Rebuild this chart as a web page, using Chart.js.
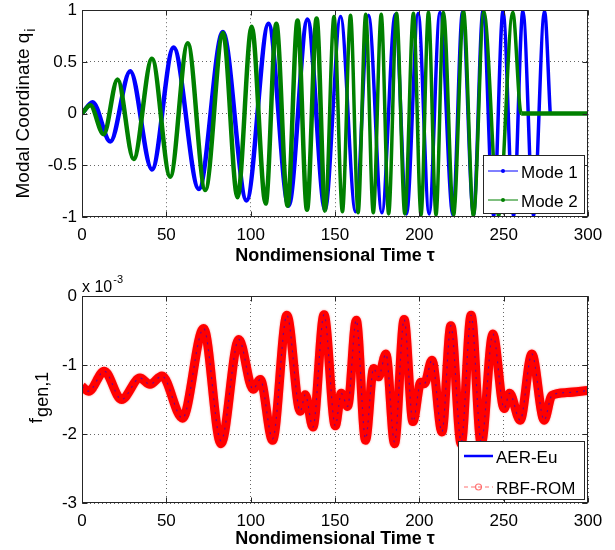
<!DOCTYPE html>
<html>
<head>
<meta charset="utf-8">
<script src="https://cdn.jsdelivr.net/npm/chart.js@4/dist/chart.umd.min.js"></script>
<style>
html,body{margin:0;padding:0;background:#fff;width:615px;height:550px;overflow:hidden;position:relative}
canvas{position:absolute;left:0}
#c1{top:-5px}
#c2{top:270px}
</style>
</head>
<body>
<canvas id="c1" width="615" height="275"></canvas>
<canvas id="c2" width="615" height="280"></canvas>
<script>
// ---------- data ----------
const xTickValues = [0, 50, 100, 150, 200, 250, 300];
const qTickValues = [-1, -0.5, 0, 0.5, 1];
const fTickValues = [-3, -2, -1, 0];
const fScaleBase = 'x 10';
const fScaleExp = '-3';
const xTitle = 'Nondimensional Time τ';

// Mode 1 (extrema of the modal coordinate)
const mode1Tau = [0, 6.3, 16.8, 28.6, 41.5, 54.3, 69.3, 83.5, 97.6, 110.6, 122.5, 133.7, 144.2, 153.3, 162.2, 169.9, 177.8, 185.7, 192.4, 199.3, 205.8, 212.2, 219.9, 225.6, 232.1, 237.7, 244, 249.6, 255.8, 261.4, 267.7, 274.2, 277.6];
const mode1Q   = [0, 0.11, -0.27, 0.41, -0.54, 0.64, -0.73, 0.79, -0.84, 0.87, -0.89, 0.91, -0.93, 0.94, -0.95, 0.95, -0.96, 0.96, -0.97, 0.97, -0.97, 0.98, -0.98, 0.98, -0.98, 0.99, -0.99, 0.99, -0.99, 0.99, -0.99, 0.99, 0.0];

// Mode 2
const mode2Tau = [0, 4.9, 12.8, 21.1, 30.6, 41.5, 52.3, 62.7, 73.1, 83.6, 92.2, 100.6, 108.9, 115.2, 121.9, 127.8, 133.4, 139.1, 144.2, 149.4, 154.4, 159.2, 163.7, 168.2, 172.7, 177.4, 181.8, 186.5, 191.4, 196.5, 201, 205.4, 209.9, 214.3, 220.3, 226.2, 232.1, 238.2, 247, 255.4, 260.4, 300];
const mode2Q   = [0, 0.08, -0.20, 0.33, -0.44, 0.53, -0.61, 0.68, -0.74, 0.78, -0.81, 0.84, -0.87, 0.87, -0.89, 0.90, -0.93, 0.92, -0.94, 0.94, -0.95, 0.95, -0.96, 0.96, -0.96, 0.96, -0.97, 0.97, -0.97, 0.97, -0.98, 0.98, -0.98, 0.98, -0.98, 0.99, -0.99, 0.99, -0.99, 0.98, 0, 0];

// generalized force (units of 1e-3)
const fgenTau = [0, 3.9, 13.2, 23.4, 34.4, 40.3, 47.4, 59.6, 72.1, 82.4, 93, 101.4, 105.7, 113, 121.5, 129.4, 132.4, 136.9, 143.5, 150.2, 153.7, 157.5, 162.6, 168.1, 172.9, 175.8, 180.2, 185.3, 191, 196.2, 200.9, 203, 207.5, 213.4, 218.7, 224.8, 230.7, 236.7, 243.6, 250.3, 253.5, 259.8, 266.7, 274, 278.6, 287.5, 300];
const aerEuF  = [-1.31, -1.38, -1.09, -1.50, -1.19, -1.28, -1.16, -1.77, -0.47, -2.10, -0.63, -1.35, -1.21, -2.07, -0.28, -1.67, -1.43, -1.90, -0.27, -1.88, -1.41, -1.60, -0.35, -2.07, -1.05, -1.17, -0.84, -2.12, -0.34, -1.82, -1.25, -1.27, -0.93, -1.97, -0.43, -2.12, -0.28, -2.12, -0.55, -1.63, -1.41, -1.80, -0.84, -1.80, -1.44, -1.40, -1.37];
const rbfRomF = [-1.31, -1.38, -1.09, -1.50, -1.19, -1.28, -1.16, -1.77, -0.47, -2.14, -0.63, -1.35, -1.21, -2.09, -0.28, -1.67, -1.43, -1.90, -0.27, -1.88, -1.41, -1.60, -0.35, -2.09, -1.05, -1.17, -0.84, -2.14, -0.34, -1.82, -1.25, -1.27, -0.93, -1.97, -0.43, -2.14, -0.28, -2.14, -0.55, -1.63, -1.41, -1.80, -0.84, -1.80, -1.44, -1.40, -1.37];

// ---------- helpers ----------
const FONT = '"Liberation Sans", Arial, Helvetica, sans-serif';
const pts = (xs, ys) => xs.map((x, i) => ({x: x, y: ys[i]}));
// later, faster oscillations look a little thinner in the reference
const fastSeg = {
  borderWidth: c => (c.p0.parsed.x >= 140 && c.p0.parsed.y !== c.p1.parsed.y ? 3.5 : undefined)
};

function drawRotatedSub(ctx, t) {
  ctx.save();
  ctx.translate(t.x, t.y);
  ctx.rotate(-Math.PI / 2);
  ctx.fillStyle = '#000';
  ctx.textBaseline = 'alphabetic';
  ctx.textAlign = 'left';
  ctx.font = t.font + 'px ' + FONT;
  const wm = ctx.measureText(t.text).width;
  ctx.font = t.subFont + 'px ' + FONT;
  const ws = ctx.measureText(t.sub).width;
  const start = -(wm + ws) / 2;
  ctx.font = t.font + 'px ' + FONT;
  ctx.fillText(t.text, start, 0);
  ctx.font = t.subFont + 'px ' + FONT;
  ctx.fillText(t.sub, start + wm + 1, t.subShift);
  ctx.restore();
}

const decor = {
  id: 'decor',
  beforeDatasetDraw(chart, args) {
    const ds = chart.data.datasets[args.index];
    if (ds.glow) {
      chart.ctx.save();
      chart.ctx.shadowColor = ds.glow;
      chart.ctx.shadowBlur = 2;
    }
  },
  afterDatasetDraw(chart, args) {
    const ds = chart.data.datasets[args.index];
    if (ds.glow) chart.ctx.restore();
  },
  afterDraw(chart, args, o) {
    const ctx = chart.ctx, a = chart.chartArea, sx = chart.scales.x, sy = chart.scales.y;
    ctx.save();
    ctx.setLineDash([]);
    ctx.strokeStyle = '#262626';
    ctx.lineWidth = 1;
    const L = Math.round(a.left) + 0.5, R = Math.round(a.right) - 0.5;
    const T = Math.round(a.top) + 0.5, B = Math.round(a.bottom) - 0.5;
    ctx.beginPath();
    sx.ticks.forEach(t => {
      const p = Math.round(sx.getPixelForValue(t.value)) + 0.5;
      ctx.moveTo(p, B); ctx.lineTo(p, B - 5);
      ctx.moveTo(p, T); ctx.lineTo(p, T + 5);
    });
    sy.ticks.forEach(t => {
      const p = Math.round(sy.getPixelForValue(t.value)) + 0.5;
      ctx.moveTo(L, p); ctx.lineTo(L + 5, p);
      ctx.moveTo(R, p); ctx.lineTo(R - 5, p);
    });
    ctx.stroke();
    ctx.strokeRect(L, T, R - L, B - T);

    if (o.yTitle) drawRotatedSub(ctx, o.yTitle);

    if (o.exp) {
      ctx.fillStyle = '#000';
      ctx.textBaseline = 'alphabetic';
      ctx.textAlign = 'left';
      ctx.font = '16px ' + FONT;
      ctx.fillText(o.exp.base, o.exp.x, o.exp.y);
      const w = ctx.measureText(o.exp.base).width;
      ctx.font = '11px ' + FONT;
      ctx.fillText(o.exp.pow, o.exp.x + w + 1, o.exp.y - 9);
    }

    if (o.legend) {
      const lg = o.legend;
      ctx.fillStyle = '#fff';
      ctx.fillRect(lg.x, lg.y, lg.w, lg.h);
      ctx.strokeStyle = '#262626';
      ctx.lineWidth = 1;
      ctx.strokeRect(lg.x + 0.5, lg.y + 0.5, lg.w, lg.h);
      lg.items.forEach(it => {
        const label = chart.data.datasets[it.ds].label;
        ctx.save();
        ctx.strokeStyle = it.color;
        ctx.lineWidth = it.lw;
        ctx.setLineDash(it.dash || []);
        ctx.beginPath();
        ctx.moveTo(lg.lx0, it.y); ctx.lineTo(lg.lx1, it.y);
        ctx.stroke();
        ctx.setLineDash([]);
        const cx = (lg.lx0 + lg.lx1) / 2;
        if (it.marker === 'dot') {
          ctx.fillStyle = it.color;
          ctx.beginPath(); ctx.arc(cx, it.y, 2, 0, 2 * Math.PI); ctx.fill();
        } else if (it.marker === 'circle') {
          ctx.lineWidth = 1.2;
          ctx.beginPath(); ctx.arc(cx, it.y, 3, 0, 2 * Math.PI); ctx.stroke();
        }
        ctx.fillStyle = '#000';
        ctx.font = '17px ' + FONT;
        ctx.textBaseline = 'middle';
        ctx.textAlign = 'left';
        ctx.fillText(label, lg.tx, it.y + 2);
        ctx.restore();
      });
    }
    ctx.restore();
  }
};

function makeOptions(c) {
  return {
    responsive: false,
    animation: false,
    devicePixelRatio: 1,
    layout: {padding: {top: c.padTop, right: 27, left: 0, bottom: 0}},
    elements: {point: {radius: 0}},
    plugins: {legend: {display: false}, tooltip: {enabled: false}, decor: c.decor},
    scales: {
      x: {
        type: 'linear', min: 0, max: 300,
        afterBuildTicks: s => { s.ticks = xTickValues.map(v => ({value: v})); },
        afterFit: s => { s.height = c.xAxisH; },
        ticks: {autoSkip: false, maxRotation: 0, padding: 8, color: '#000', font: {family: FONT, size: 17}, callback: v => String(v)},
        grid: {color: 'rgba(0,0,0,0.6)', lineWidth: 1, drawTicks: false},
        border: {display: false, dash: [1, 3]},
        title: {display: true, text: xTitle, color: '#000', font: {family: FONT, size: 18, weight: 'bold'}, padding: {top: 0, bottom: c.titlePad}}
      },
      y: {
        type: 'linear', min: c.yMin, max: c.yMax,
        afterBuildTicks: s => { s.ticks = c.yTicks.map(v => ({value: v})); },
        afterFit: s => { s.width = 82; },
        ticks: {padding: 5, color: '#000', font: {family: FONT, size: 17}, callback: v => String(v)},
        grid: {color: 'rgba(0,0,0,0.6)', lineWidth: 1, drawTicks: false},
        border: {display: false, dash: [1, 3]}
      }
    }
  };
}

// ---------- top chart ----------
new Chart(document.getElementById('c1'), {
  type: 'line',
  data: {
    datasets: [
      {label: 'Mode 1', data: pts(mode1Tau, mode1Q), borderColor: '#0000ff', borderWidth: 4.5, cubicInterpolationMode: 'monotone', pointRadius: 0, order: 2, segment: fastSeg},
      {label: 'Mode 2', data: pts(mode2Tau, mode2Q), borderColor: '#008000', borderWidth: 4.5, cubicInterpolationMode: 'monotone', pointRadius: 0, order: 1, segment: fastSeg}
    ]
  },
  options: makeOptions({
    padTop: 5, xAxisH: 53, titlePad: 3, yMin: -1, yMax: 1, yTicks: qTickValues,
    decor: {
      yTitle: {text: 'Modal Coordinate q', sub: 'i', x: 28.5, y: 119, font: 19, subFont: 14, subShift: 6},
      legend: {x: 483, y: 160, w: 101, h: 58, lx0: 488, lx1: 518, tx: 521,
        items: [
          {ds: 0, color: '#0000ff', lw: 1, marker: 'dot', y: 176},
          {ds: 1, color: '#008000', lw: 1, marker: 'dot', y: 205}
        ]}
    }
  }),
  plugins: [decor]
});

// ---------- bottom chart ----------
new Chart(document.getElementById('c2'), {
  type: 'line',
  data: {
    datasets: [
      {label: 'AER-Eu', data: pts(fgenTau, aerEuF), borderColor: 'rgba(0,0,255,0.55)', borderWidth: 1.2, borderDash: [2, 5], cubicInterpolationMode: 'monotone', pointRadius: 0, order: 1},
      {label: 'RBF-ROM', data: pts(fgenTau, rbfRomF), borderColor: 'rgb(255,0,0)', borderWidth: 9, glow: 'rgba(255,120,120,0.9)', cubicInterpolationMode: 'monotone', pointRadius: 0, order: 2}
    ]
  },
  options: makeOptions({
    padTop: 26, xAxisH: 47, titlePad: 0, yMin: -3, yMax: 0, yTicks: fTickValues,
    decor: {
      yTitle: {text: 'f', sub: 'gen,1', x: 42, y: 128, font: 19, subFont: 18, subShift: 6},
      exp: {base: fScaleBase, pow: fScaleExp, x: 82, y: 22},
      legend: {x: 458, y: 171, w: 126, h: 58, lx0: 464, lx1: 493, tx: 496,
        items: [
          {ds: 0, color: '#0000ff', lw: 2.5, y: 186},
          {ds: 1, color: 'rgba(255,90,90,0.85)', lw: 1.2, dash: [4, 3], marker: 'circle', y: 217}
        ]}
    }
  }),
  plugins: [decor]
});
</script>
</body>
</html>
